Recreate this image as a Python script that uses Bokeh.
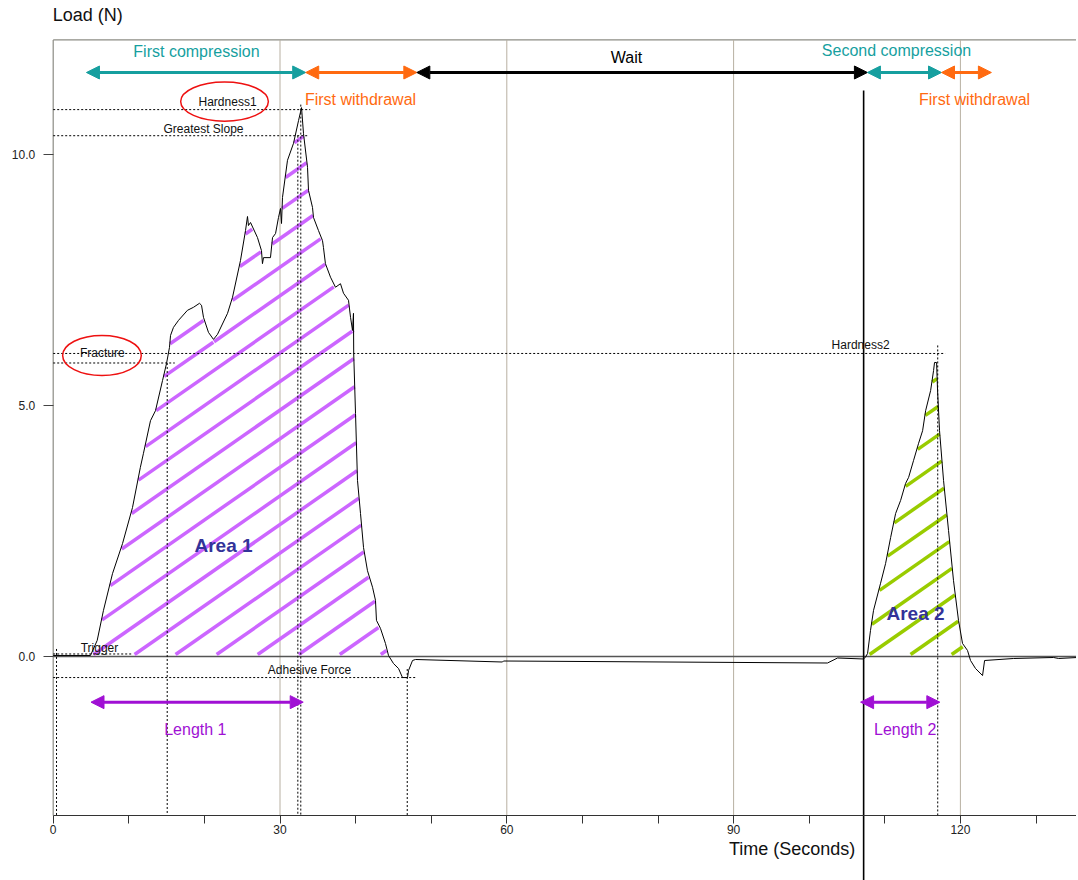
import numpy as np
from bokeh.plotting import figure
from bokeh.models import (Range1d, FixedTicker, Arrow, NormalHead, Label, PrintfTickFormatter)
from bokeh.embed import file_html
from bokeh.resources import INLINE

# ---------------- data ----------------
time_s = [0.0, 4.93, 5.82, 6.65, 7.84, 9.17, 10.49, 11.53, 11.94, 12.87, 13.53, 14.46, 14.99,
          15.38, 15.52, 15.91, 16.58, 17.76, 18.56, 19.35, 19.62, 19.88, 20.54, 21.20, 21.73,
          23.06, 23.72, 24.77, 25.44, 25.70, 25.83, 26.10, 27.02, 27.55, 27.68, 27.82, 28.74,
          29.01, 29.41, 29.80, 30.07, 30.20, 30.33, 30.99, 31.79, 32.45, 32.85, 33.11, 33.64,
          33.77, 34.30, 34.43, 35.09, 35.62, 35.75, 36.01, 36.68, 37.34, 38.00, 38.40, 39.06,
          39.33, 39.59, 39.72, 39.75, 39.99, 40.25, 40.65, 41.05, 41.57, 42.24, 42.63, 42.76,
          43.29, 43.95, 44.35, 45.01, 45.68, 46.20, 46.87, 47.00, 47.53, 47.92, 59.43, 59.56,
          102.42, 103.75, 107.19, 107.45, 107.72, 108.11, 108.51, 109.44, 110.10, 110.77,
          111.43, 112.09, 112.75, 113.15, 113.81, 114.47, 115.00, 115.40, 116.06, 116.45,
          116.58, 116.85, 116.98, 117.24, 117.77, 118.43, 119.09, 119.75, 120.28, 120.94,
          121.34, 122.00, 122.93, 123.20, 127.04, 132.33, 132.99, 135.5]
load_n = [0.02, 0.02, 0.32, 0.92, 1.65, 2.25, 2.97, 3.77, 4.05, 4.70, 4.90, 5.50, 5.84,
          6.16, 6.40, 6.56, 6.70, 6.90, 6.96, 7.04, 7.00, 6.76, 6.46, 6.32, 6.42,
          6.84, 7.16, 7.89, 8.49, 8.77, 8.59, 8.65, 8.35, 8.09, 7.83, 7.95, 7.95,
          8.35, 8.43, 8.75, 8.93, 8.63, 9.15, 9.89, 10.23, 10.68, 10.94, 10.42, 9.75,
          9.29, 8.95, 8.75, 8.49, 8.29, 8.15, 7.83, 7.56, 7.36, 7.43, 7.24, 7.10,
          6.76, 6.50, 6.84, 6.04, 4.84, 3.51, 2.85, 2.17, 1.71, 1.38, 1.12, 0.72,
          0.56, 0.26, 0.02, -0.14, -0.24, -0.42, -0.42, -0.28, -0.08, -0.06, -0.11, -0.09,
          -0.13, -0.03, -0.05, -0.01, 0.06, 0.52, 0.92, 1.46, 1.85, 2.37,
          2.85, 3.11, 3.45, 3.57, 3.91, 4.25, 4.50, 4.90, 5.30, 5.70,
          5.86, 5.86, 5.30, 4.50, 3.51, 2.51, 1.51, 0.72, 0.26, 0.12,
          -0.08, -0.24, -0.38, -0.08, -0.04, -0.02, -0.04, -0.02]

x_ticks = [0, 30, 60, 90, 120]
x_minor_ticks = [10, 20, 40, 50, 70, 80, 100, 110, 130]
y_ticks = [0, 5, 10]
grid_ticks = [30, 60, 90, 120]

# test phases (arrows along the top)
phase_bounds = [4.4, 33.4, 48.1, 107.7, 117.5, 124.1]
phase_names = ["First compression", "First withdrawal", "Wait", "Second compression", "First withdrawal"]
phase_label_x = [18.95, 40.65, 75.84, 111.55, 121.87]
phase_label_y = [12.06, 11.10, 11.94, 12.08, 11.10]

# markers on the curve
trigger_t, trigger_load = 0.44, 0.05
fracture_t, fracture_load = 15.08, 5.85
slope_t, slope_load = 32.36, 10.38
hardness1_t, hardness1_load = 32.75, 10.90
adhesive_t, adhesive_load = 46.83, -0.42
second_start_t = 107.2
hardness2_t, hardness2_load = 117.0, 6.04
length1 = (5.0, 33.07)
length2 = (106.8, 117.28)
area1_range = (4.9, 44.4)
area2_range = (107.2, 121.3)

# ---------------- styles / layout ----------------
FONT = "Liberation Sans"
TEAL = "#169f9f"
ORANGE = "#ff6a10"
BLACK = "#000000"
PURPLE = "#a010d4"
HATCH1 = "#cc66ff"
HATCH2 = "#99cc00"
AREA_TXT = "#333399"
FRAME_GRAY = "#8c8c84"
AXIS_Y = -3.17      # where the time axis sits
TOP_Y = 12.29       # top border of the chart box
Y_LO, Y_HI = -4.465, 13.075
X_LO, X_HI = -6.971, 135.357

p = figure(width=1076, height=880, x_range=Range1d(X_LO, X_HI), y_range=Range1d(Y_LO, Y_HI),
           output_backend="svg", toolbar_location=None,
           min_border_left=0, min_border_top=0, min_border_bottom=0, min_border_right=0)
p.title.visible = False
p.outline_line_color = None
p.background_fill_color = "white"
p.border_fill_color = "white"
p.xgrid.visible = False
p.ygrid.visible = False

# time axis, fixed at the bottom of the chart box
p.xaxis.fixed_location = AXIS_Y
p.xaxis.bounds = (0, X_HI)
p.xaxis.ticker = FixedTicker(ticks=x_ticks, minor_ticks=x_minor_ticks)
p.xaxis.major_tick_out = 8
p.xaxis.major_tick_in = 0
p.xaxis.minor_tick_out = 8
p.xaxis.minor_tick_in = 0
p.xaxis.major_tick_line_color = "#333333"
p.xaxis.minor_tick_line_color = "#333333"
p.xaxis.axis_line_color = "#333333"
p.xaxis.major_label_standoff = 1
p.xaxis.major_label_text_font = FONT
p.xaxis.major_label_text_font_size = "12px"
p.xaxis.major_label_text_color = "#222222"

# load axis, fixed at t = 0
p.yaxis.fixed_location = 0
p.yaxis.ticker = FixedTicker(ticks=y_ticks)
p.yaxis.formatter = PrintfTickFormatter(format="%.1f")
p.yaxis.major_tick_out = 10
p.yaxis.major_tick_in = 0
p.yaxis.minor_tick_line_color = None
p.yaxis.major_tick_line_color = "#444444"
p.yaxis.axis_line_color = None
p.yaxis.major_label_standoff = 8
p.yaxis.major_label_text_font = FONT
p.yaxis.major_label_text_font_size = "12px"
p.yaxis.major_label_text_color = "#222222"

# box lines (left and top), vertical grid lines, zero line
p.segment([0, 0], [AXIS_Y, TOP_Y], [0, X_HI], [TOP_Y, TOP_Y], line_color=FRAME_GRAY, line_width=1.2)
p.segment(grid_ticks, [AXIS_Y] * len(grid_ticks), grid_ticks, [TOP_Y] * len(grid_ticks),
          line_color="#b8b0a2", line_width=1)
p.segment([0], [0], [X_HI], [0], line_color="#555555", line_width=1.3)


# ---------------- hatching of the two areas ----------------
def hatch_segments(t_lo, t_hi, t_anchor, slope, gap):
    tt = np.linspace(t_lo, t_hi, 8000)
    yc = np.interp(tt, time_s, load_n)
    kmin = int(np.floor(-slope * (t_hi - t_anchor) / gap)) - 1
    kmax = int(np.ceil(yc.max() / gap)) + 1
    x0, y0, x1, y1 = [], [], [], []
    for k in range(kmin, kmax + 1):
        yl = slope * (tt - t_anchor) + k * gap
        inside = (yl >= 0.04) & (yl <= yc - 0.06)
        edges = np.flatnonzero(np.diff(np.concatenate([[0], inside.astype(int), [0]])))
        for a, b in zip(edges[::2], edges[1::2]):
            if b - a > 20:
                x0.append(tt[a]); y0.append(yl[a]); x1.append(tt[b - 1]); y1.append(yl[b - 1])
    return x0, y0, x1, y1


HATCH_SLOPE = 0.105   # N per s (about 35 degrees on screen)
HATCH_GAP = 0.57      # N between hatch lines
h1 = hatch_segments(area1_range[0], area1_range[1], 4.95, HATCH_SLOPE, HATCH_GAP)
p.segment(h1[0], h1[1], h1[2], h1[3], line_color=HATCH1, line_width=3.5)
h2 = hatch_segments(area2_range[0], area2_range[1], 107.6, HATCH_SLOPE, HATCH_GAP)
p.segment(h2[0], h2[1], h2[2], h2[3], line_color=HATCH2, line_width=3.5)

# ---------------- curve ----------------
p.line(time_s, load_n, line_color="black", line_width=1)

# ---------------- dotted guides ----------------
guide_x0 = [0, 0, 0, 0, 0, 0,
            trigger_t, fracture_t, slope_t, hardness1_t, adhesive_t, hardness2_t]
guide_y0 = [hardness1_load, slope_load, hardness2_load, fracture_load, trigger_load, adhesive_load,
            0.15, fracture_load, slope_load, hardness1_load + 0.1, -0.25, 6.2]
guide_x1 = [hardness1_t + 1.25, slope_t + 1.25, hardness2_t + 1.0, fracture_t + 1.0, 10.45, adhesive_t + 1.1,
            trigger_t, fracture_t, slope_t, hardness1_t, adhesive_t, hardness2_t]
guide_y1 = [hardness1_load, slope_load, hardness2_load, fracture_load, trigger_load, adhesive_load,
            AXIS_Y, AXIS_Y, AXIS_Y, AXIS_Y, AXIS_Y, AXIS_Y]
p.segment(guide_x0, guide_y0, guide_x1, guide_y1, line_color="black", line_width=1, line_dash="2 2")

# start of second compression: solid line running down past the axis
p.segment([second_start_t], [11.28], [second_start_t], [Y_LO], line_color="black", line_width=1.6)

# red hand-drawn rings
p.ellipse(x=[22.66, 6.45], y=[11.06, 6.0], width=[11.6, 10.4], height=[0.78, 0.8],
          fill_color=None, line_color="#ee1111", line_width=1.5)

# ---------------- phase arrows ----------------
phase_colors = [TEAL, ORANGE, BLACK, TEAL, ORANGE]
ARROW_Y = 11.64
for i, name in enumerate(phase_names):
    c = phase_colors[i]
    p.add_layout(Arrow(x_start=phase_bounds[i], y_start=ARROW_Y, x_end=phase_bounds[i + 1], y_end=ARROW_Y,
                       line_color=c, line_width=3,
                       start=NormalHead(size=13, fill_color=c, line_color=c, line_width=1),
                       end=NormalHead(size=13, fill_color=c, line_color=c, line_width=1)))
    p.add_layout(Label(x=phase_label_x[i], y=phase_label_y[i], text=name, text_align="center",
                       text_baseline="middle", text_font=FONT, text_font_size="16px", text_color=c))

# length arrows
for (a, b), lx, txt in [(length1, 18.8, "Length 1"), (length2, 112.7, "Length 2")]:
    p.add_layout(Arrow(x_start=a, y_start=-0.91, x_end=b, y_end=-0.91, line_color=PURPLE, line_width=3,
                       start=NormalHead(size=13, fill_color=PURPLE, line_color=PURPLE, line_width=1),
                       end=NormalHead(size=13, fill_color=PURPLE, line_color=PURPLE, line_width=1)))
    p.add_layout(Label(x=lx, y=-1.45, text=txt, text_align="center", text_baseline="middle",
                       text_font=FONT, text_font_size="16px", text_color=PURPLE))

# small annotation texts
small = [("Hardness1", 23.06, 11.06), ("Greatest Slope", 19.88, 10.51), ("Fracture", 6.5, 6.04),
         ("Hardness2", 106.8, 6.2), ("Trigger", 6.12, 0.16), ("Adhesive Force", 33.9, -0.26)]
for txt, x, y in small:
    p.add_layout(Label(x=x, y=y, text=txt, text_align="center", text_baseline="middle",
                       text_font=FONT, text_font_size="12px", text_color="#111111"))

# area labels
for txt, x, y in [("Area 1", 22.53, 2.21), ("Area 2", 114.06, 0.86)]:
    p.add_layout(Label(x=x, y=y, text=txt, text_align="center", text_baseline="middle",
                       text_font=FONT, text_font_size="19px", text_font_style="bold", text_color=AREA_TXT))

# axis titles
p.add_layout(Label(x=-0.05, y=12.78, text="Load (N)", text_align="left", text_baseline="middle",
                   text_font=FONT, text_font_size="18px", text_color="#111111"))
p.add_layout(Label(x=106.1, y=-3.83, text="Time (Seconds)", text_align="right", text_baseline="middle",
                   text_font=FONT, text_font_size="18px", text_color="#111111"))

open("out.html", "w").write(file_html(p, INLINE))
